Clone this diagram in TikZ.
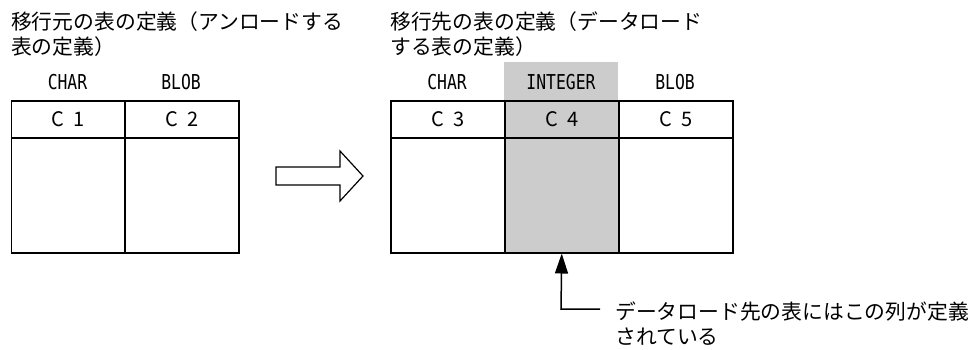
\documentclass[tikz,border=0pt]{standalone}
\usepackage{fontspec}
\setmainfont{Noto Sans CJK JP}
\newfontfamily\typefont[FakeStretch=0.8]{DejaVu Sans Mono}
\usetikzlibrary{arrows.meta}
\begin{document}
\begin{tikzpicture}[x=1pt,y=-1pt,
  title/.style={anchor=west,inner sep=0pt,font=\fontsize{20.8}{25}\selectfont},
  typelbl/.style={inner sep=0pt,font=\typefont\fontsize{20.5}{22}\selectfont},
  cell/.style={draw,line width=1.5pt,inner sep=0pt,minimum width=114pt,anchor=north west},
  hdr/.style={cell,minimum height=37pt,font=\fontsize{20}{22}\selectfont},
  body/.style={cell,minimum height=115pt},
  shade/.style={fill=black!20}
]
\useasboundingbox (0,0) rectangle (974,349);
% titles
\node[title] (t1a) at (11,22) {移行元の表の定義（アンロードする};
\node[title] (t1b) at (11,47) {表の定義）};
\node[title] (t2a) at (390,22) {移行先の表の定義（データロード};
\node[title] (t2b) at (390,47) {する表の定義）};
% left table
\node[typelbl] (l1t) at (67.5,82) {CHAR};
\node[typelbl] (l2t) at (181,82) {BLOB};
\node[hdr] (c1) at (10.5,100) {C\hspace{9pt}1};
\node[hdr] (c2) at (124,100) {C\hspace{9pt}2};
\node[body] (b1) at (10.5,137) {};
\node[body] (b2) at (124,137) {};
% big hollow arrow
\draw[line width=1.2pt] (276,167) coordinate (ar) -- (340,167) -- (340,151) -- (363,176) -- (340,201) -- (340,185) -- (276,185) -- cycle;
% right table
\fill[shade] (504,62) rectangle (618,100);
\node[typelbl] (r1t) at (447,82) {CHAR};
\node[typelbl] (r2t) at (561,82) {INTEGER};
\node[typelbl] (r3t) at (675,82) {BLOB};
\node[hdr] (c3) at (390,100) {C\hspace{9pt}3};
\node[hdr,shade] (c4) at (504,100) {C\hspace{9pt}4};
\node[hdr] (c5) at (618,100) {C\hspace{9pt}5};
\node[body] (b3) at (390,137) {};
\node[body,shade] (b4) at (504,137) {};
\node[body] (b5) at (618,137) {};
% pointer
\coordinate (pc) at (561,309);
\coordinate (pe) at (600,309);
\draw[line width=1.5pt,-{Triangle[width=13pt,length=20pt]}] (pe) -- (pc) -- (b4.south);
\node[title] (n1) at (615,312) {データロード先の表にはこの列が定義};
\node[title] (n2) at (615,337) {されている};
\end{tikzpicture}
\end{document}
